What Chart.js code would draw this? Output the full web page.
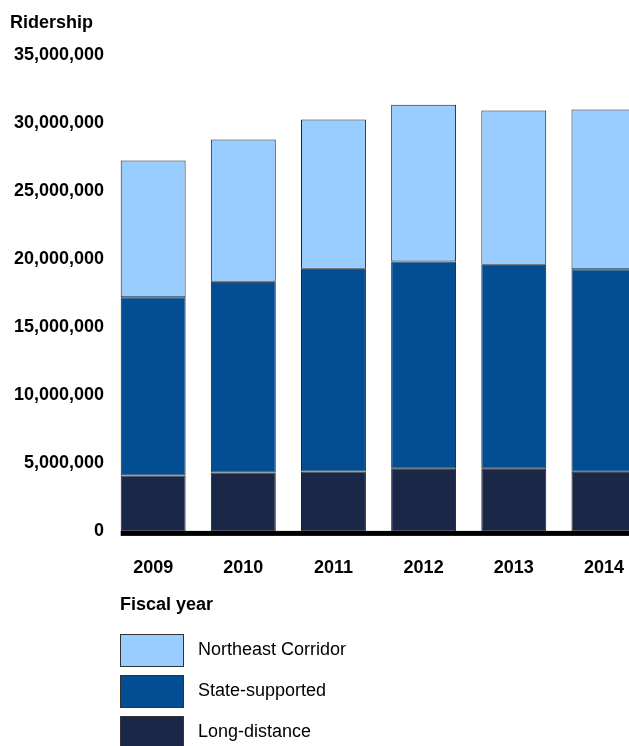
<!DOCTYPE html>
<html>
<head>
<meta charset="utf-8">
<title>Ridership</title>
<script src="https://cdn.jsdelivr.net/npm/chart.js@4"></script>
<style>
  html, body { margin: 0; padding: 0; overflow: hidden; background: #fff; }
  #wrap { position: relative; width: 629px; height: 746px; overflow: hidden;
          font-family: "Liberation Sans", Arial, sans-serif; color: #000; }
  #box { position: absolute; left: 0; top: 0; width: 660px; height: 605px; }
  #xtitle { position: absolute; left: 120px; top: 594px; font-weight: bold; font-size: 18px; }
  .item { position: absolute; left: 120px; height: 33px; }
  .swatch { position: absolute; left: 0; top: 0; width: 62px; height: 31px; border: 1px solid #333; }
  .label { position: absolute; left: 78px; top: 5px; font-size: 18px; white-space: nowrap; }
</style>
</head>
<body>
<div id="wrap">
  <div id="box"><canvas id="ridershipChart"></canvas></div>
  <div id="xtitle">Fiscal year</div>
  <div id="legend"></div>
</div>
<script>
const years = ["2009", "2010", "2011", "2012", "2013", "2014"];
const longDistance = [4110000, 4330000, 4400000, 4600000, 4600000, 4380000];
const stateSupported = [13080000, 13990000, 14880000, 15210000, 14970000, 14870000];
const northeastCorridor = [10030000, 10450000, 10950000, 11500000, 11320000, 11720000];
const yTicks = [0, 5000000, 10000000, 15000000, 20000000, 25000000, 30000000, 35000000];

const font = "'Liberation Sans', Arial, sans-serif";

// thick black base line, starting at the first bar's left edge
const baseLine = {
  id: "baseLine",
  afterDatasetsDraw(chart) {
    const ctx = chart.ctx;
    const bar = chart.getDatasetMeta(0).data[0];
    const left = bar.x - bar.width / 2;
    const y = chart.scales.y.getPixelForValue(0);
    ctx.save();
    ctx.fillStyle = "#000";
    ctx.fillRect(left, y - 0.5, chart.chartArea.right - left, 5);
    ctx.restore();
  }
};

const datasets = [
  { label: "Long-distance", data: longDistance, backgroundColor: "#1a2747" },
  { label: "State-supported", data: stateSupported, backgroundColor: "#034e92" },
  { label: "Northeast Corridor", data: northeastCorridor, backgroundColor: "#99ccff" }
].map(d => Object.assign(d, {
  borderColor: "#1c2128",
  borderWidth: 1,
  borderSkipped: false,
  barPercentage: 0.72,
  categoryPercentage: 1
}));

const config = {
  type: "bar",
  data: { labels: years, datasets: datasets },
  options: {
    responsive: true,
    maintainAspectRatio: false,
    animation: false,
    layout: { padding: { left: 10, right: 11, top: 0, bottom: 0 } },
    plugins: {
      legend: { display: false },
      tooltip: { enabled: false },
      title: {
        display: true,
        text: "Ridership",
        align: "start",
        color: "#000",
        font: { family: font, size: 18, weight: "bold" },
        padding: { top: 12, bottom: 21 }
      }
    },
    scales: {
      x: {
        stacked: true,
        grid: { display: false, drawTicks: false },
        border: { display: false },
        ticks: { color: "#000", padding: 26, font: { family: font, size: 18, weight: "bold" } }
      },
      y: {
        stacked: true,
        min: 0,
        max: 35000000,
        afterBuildTicks: axis => { axis.ticks = yTicks.map(v => ({ value: v })); },
        grid: { display: false, drawTicks: false },
        border: { display: false },
        ticks: {
          color: "#000",
          padding: 4,
          font: { family: font, size: 18, weight: "bold" },
          callback: v => v.toLocaleString("en-US")
        }
      }
    }
  },
  plugins: [baseLine]
};

const myChart = new Chart(document.getElementById("ridershipChart"), config);

// legend, top entry first
const legend = document.getElementById("legend");
const tops = [634, 675, 716];
datasets.slice().reverse().forEach((d, i) => {
  const item = document.createElement("div");
  item.className = "item";
  item.style.top = tops[i] + "px";
  item.innerHTML = `<div class="swatch" style="background:${d.backgroundColor}"></div>
                    <div class="label">${d.label}</div>`;
  legend.appendChild(item);
});
</script>
</body>
</html>
